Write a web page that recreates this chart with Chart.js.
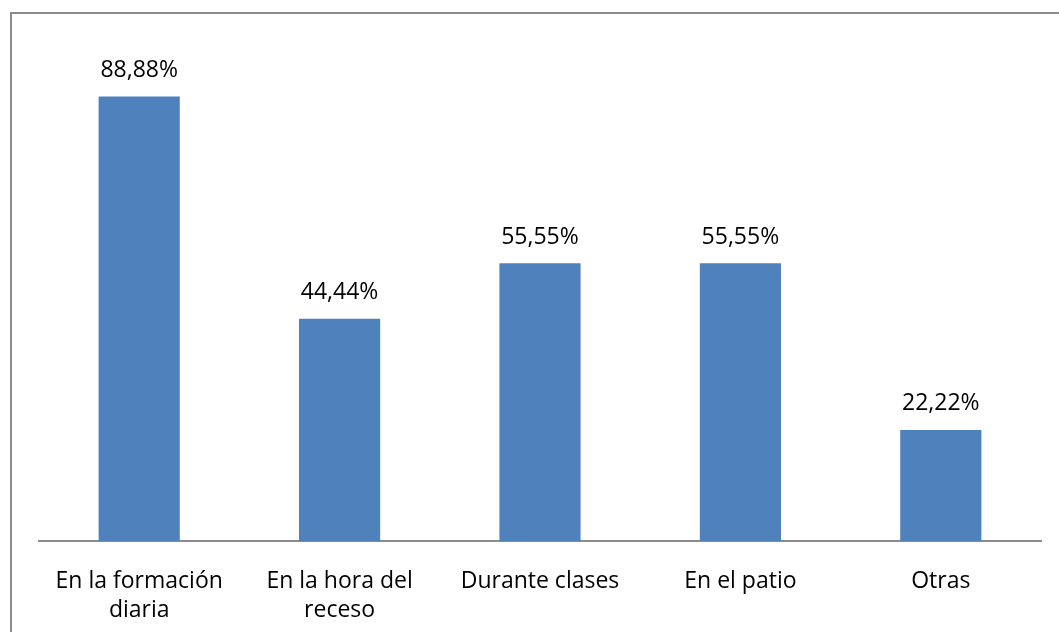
<!DOCTYPE html>
<html>
<head>
<meta charset="utf-8">
<script src="https://cdn.jsdelivr.net/npm/chart.js@4.4.0/dist/chart.umd.min.js"></script>
<style>
  html, body { margin: 0; padding: 0; background: #fff; }
  #wrap { position: relative; width: 1059px; height: 632px; overflow: hidden; }
  #frame { position: absolute; left: 10px; top: 12px; width: 1100px; height: 700px;
           border-left: 2px solid #8c8c8c; border-top: 2px solid #8c8c8c; box-sizing: border-box; }
  #c { position: absolute; left: 0; top: 0; }
</style>
</head>
<body>
<div id="wrap">
  <div id="frame"></div>
  <canvas id="c" width="1059" height="632"></canvas>
</div>
<script>
// chart data
const categories = [['En la formación', 'diaria'], ['En la hora del', 'receso'], 'Durante clases', 'En el patio', 'Otras'];
const values = [88.88, 44.44, 55.55, 55.55, 22.22];
const valueLabels = ['88,88%', '44,44%', '55,55%', '55,55%', '22,22%'];

const FONT = '"Open Sans", "Liberation Sans", sans-serif';

// draws the percentage above each bar
const barLabels = {
  id: 'barLabels',
  afterDatasetsDraw(chart) {
    const ctx = chart.ctx;
    const meta = chart.getDatasetMeta(0);
    ctx.save();
    ctx.font = '23px ' + FONT;
    ctx.fillStyle = '#000';
    ctx.textAlign = 'center';
    ctx.textBaseline = 'middle';
    meta.data.forEach((bar, i) => {
      ctx.fillText(valueLabels[i], bar.x, bar.y - 26);
    });
    ctx.restore();
  }
};

new Chart(document.getElementById('c'), {
  type: 'bar',
  data: {
    labels: categories,
    datasets: [{
      data: values,
      backgroundColor: '#4f81bd',
      barPercentage: 0.405,
      categoryPercentage: 1
    }]
  },
  options: {
    responsive: false,
    animation: false,
    layout: { padding: { left: 39, right: 18, top: 41, bottom: 0 } },
    plugins: { legend: { display: false }, tooltip: { enabled: false } },
    scales: {
      y: { display: false, min: 0, max: 100 },
      x: {
        grid: { display: false },
        border: { color: '#8c8c8c', width: 2 },
        ticks: {
          color: '#000',
          font: { family: FONT, size: 23, lineHeight: 1.26 },
          padding: 18,
          maxRotation: 0,
          autoSkip: false
        },
        afterFit(scale) { scale.height = 91; }
      }
    }
  },
  plugins: [barLabels]
});
</script>
</body>
</html>
